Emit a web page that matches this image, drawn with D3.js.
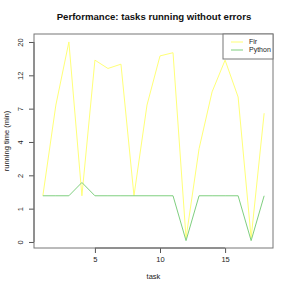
<!DOCTYPE html>
<html>
<head>
<meta charset="utf-8">
<script src="https://cdn.jsdelivr.net/npm/d3@7"></script>
<style>
  body { margin: 0; background: #fff; }
  svg { display: block; font-family: "Liberation Sans", Arial, sans-serif; }
</style>
</head>
<body>
<div id="chart"></div>
<script>
// running time in minutes per task, drawn on a log(x + 1) axis
const tasks = d3.range(1, 19);
const firTimes = [1.0, 6.8, 19.1, 1.0, 14.3, 12.5, 13.4, 1.0, 6.8, 15.3, 16.1, 0.06, 3.05, 8.5, 14.3, 7.8, 0.06, 5.9];
const pythonTimes = [1.0, 1.0, 1.0, 1.44, 1.0, 1.0, 1.0, 1.0, 1.0, 1.0, 1.0, 0.02, 1.0, 1.0, 1.0, 1.0, 0.02, 1.0];
const seriesNames = ['Fir', 'Python'];
const seriesColors = ['#ffff77', '#7fcf7f'];
const xTicks = [5, 10, 15];
const yTickLabels = ['0', '1', '2', '4', '7', '12', '20'];
// tick positions on the transformed axis: 0, 0.5, ... 3
const yTickPos = yTickLabels.map((d, i) => Math.expm1(i * 0.5));

const width = 291, height = 291;
const margin = {top: 34, right: 18, bottom: 43, left: 34};
const w = width - margin.left - margin.right;
const h = height - margin.top - margin.bottom;

const svg = d3.select('#chart')
  .append('svg')
  .attr('width', width)
  .attr('height', height);

// R-style 4% padding on both axes
const xPad = (d3.max(tasks) - d3.min(tasks)) * 0.04;
const x = d3.scaleLinear()
  .domain([d3.min(tasks) - xPad, d3.max(tasks) + xPad])
  .range([margin.left, margin.left + w]);

const allT = firTimes.concat(pythonTimes).map(v => Math.log1p(v));
const tMin = d3.min(allT), tMax = d3.max(allT);
const tPad = (tMax - tMin) * 0.04;
const y = d3.scaleSymlog()
  .constant(1)
  .domain([Math.expm1(tMin - tPad), Math.expm1(tMax + tPad)])
  .range([margin.top + h, margin.top]);

svg.append('text')
  .attr('x', 154)
  .attr('y', 20)
  .attr('text-anchor', 'middle')
  .attr('font-size', 9.6)
  .attr('font-weight', 'bold')
  .attr('fill', '#111')
  .text('Performance: tasks running without errors');

// x axis
const xAxis = svg.append('g')
  .attr('transform', `translate(0,${margin.top + h})`)
  .call(d3.axisBottom(x).tickValues(xTicks).tickSize(5).tickPadding(4));
xAxis.select('.domain').attr('d', `M${x(xTicks[0])},0H${x(xTicks[xTicks.length - 1])}`);
xAxis.selectAll('path, line').attr('stroke', '#555');
xAxis.selectAll('text').attr('font-size', 7.5).attr('fill', '#222').attr('font-family', null);

// y axis
const yAxis = svg.append('g')
  .attr('transform', `translate(${margin.left},0)`)
  .call(d3.axisLeft(y).tickValues(yTickPos).tickFormat((d, i) => yTickLabels[i]).tickSize(5));
yAxis.select('.domain').attr('d', `M0,${y(yTickPos[0])}V${y(yTickPos[yTickPos.length - 1])}`);
yAxis.selectAll('path, line').attr('stroke', '#555');
yAxis.selectAll('text')
  .attr('font-size', 7.5)
  .attr('fill', '#222')
  .attr('font-family', null)
  .attr('text-anchor', 'middle')
  .attr('x', null)
  .attr('dy', null)
  .attr('transform', 'translate(-11,0) rotate(-90)');

// box
svg.append('rect')
  .attr('x', margin.left)
  .attr('y', margin.top)
  .attr('width', w)
  .attr('height', h)
  .attr('fill', 'none')
  .attr('stroke', '#777');

svg.append('text')
  .attr('x', margin.left + w / 2)
  .attr('y', 279)
  .attr('text-anchor', 'middle')
  .attr('font-size', 7.5)
  .attr('fill', '#222')
  .text('task');

svg.append('text')
  .attr('transform', `translate(9,${margin.top + h / 2}) rotate(-90)`)
  .attr('text-anchor', 'middle')
  .attr('font-size', 7.5)
  .attr('fill', '#222')
  .text('running time (min)');

const line = d3.line()
  .x((d, i) => x(tasks[i]))
  .y(d => y(d));

[firTimes, pythonTimes].forEach((series, k) => {
  svg.append('path')
    .datum(series)
    .attr('d', line)
    .attr('fill', 'none')
    .attr('stroke', seriesColors[k])
    .attr('stroke-width', 1);
});

// legend
const lg = svg.append('g').attr('transform', `translate(223,${margin.top})`);
lg.append('rect')
  .attr('width', margin.left + w - 223)
  .attr('height', 25)
  .attr('fill', '#fff')
  .attr('stroke', '#777');
seriesNames.forEach((name, k) => {
  lg.append('line')
    .attr('x1', 8).attr('x2', 20)
    .attr('y1', 8 + k * 8).attr('y2', 8 + k * 8)
    .attr('stroke', seriesColors[k])
    .attr('stroke-width', 1);
  lg.append('text')
    .attr('x', 26)
    .attr('y', 8 + k * 8)
    .attr('dy', '0.35em')
    .attr('font-size', 7)
    .attr('fill', '#222')
    .text(name);
});
</script>
</body>
</html>
